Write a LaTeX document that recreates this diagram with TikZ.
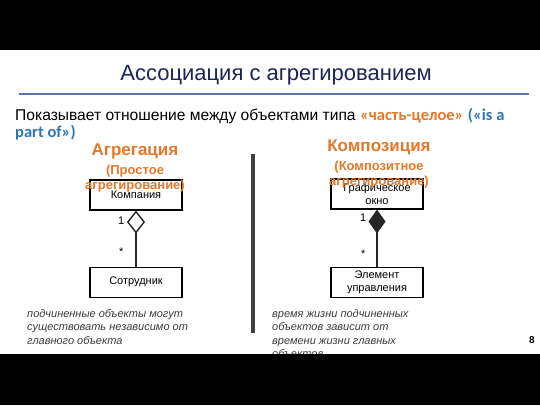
\documentclass[tikz,border=0pt]{standalone}
\usepackage{fontspec}
\setmainfont{Liberation Sans}
\newfontfamily\calfont{Carlito}
\usetikzlibrary{positioning, arrows.meta}
\definecolor{titleColor}{RGB}{26,36,85}
\definecolor{ruleColor}{RGB}{90,114,168}
\definecolor{partColor}{RGB}{228,120,40}
\definecolor{isaColor}{RGB}{46,117,182}
\definecolor{noteColor}{RGB}{60,60,60}
\tikzstyle{umlClass}=[rectangle, draw=black, line width=1.1pt, minimum width=92pt,
minimum height=30pt, align=center, inner sep=1pt,
font=\fontsize{11}{12.5}\selectfont]
\tikzstyle{head}=[text=partColor, font=\fontsize{17}{19}\selectfont\bfseries, inner sep=0pt]
\tikzstyle{subHead}=[text=partColor, font=\fontsize{13}{15}\selectfont\bfseries, inner sep=0pt]
\tikzstyle{mult}=[font=\fontsize{11}{12}\selectfont, inner sep=0pt]
\tikzstyle{note}=[text=noteColor, align=left, inner sep=0pt, anchor=north west,
font=\fontsize{11}{13.6}\selectfont\itshape]
\tikzstyle{aggr}=[line width=1.4pt, draw=black!85]
\newcommand{\hiText}[2]{{\calfont\fontsize{16.5}{17}\selectfont\bfseries\color{#1}#2}}

\begin{document}
\begin{tikzpicture}[x=1pt, y=-1pt]
  \useasboundingbox (0,0) rectangle (540,405);
  \fill[black] (0,0) rectangle (540,50);

  % title and rule
  \node(title) [text=titleColor, font=\fontsize{22}{24}\selectfont, anchor=base] at (276,80)
    {Ассоциация с агрегированием};
  \draw [ruleColor, line width=1.8pt] (19,94) -- (529,94);
  \node(intro) [anchor=base west, align=left, inner sep=0pt,
    font=\fontsize{15.6}{17}\selectfont] at (15,137)
    {Показывает отношение между объектами типа \hiText{partColor}{«часть-целое»}
    \hiText{isaColor}{(«is a}\\\hiText{isaColor}{part of»)}};

  % aggregation
  \node(company) [umlClass] at (136,195) {Компания};
  \node(employee) [umlClass, below=56pt of company] {Сотрудник};
  \draw [aggr, -{Diamond[open, length=23pt, width=18pt, line width=1.4pt]}]
    (employee) -- node(oneL) [mult, pos=0.82, left=11pt] {1}
    node(manyL) [mult, pos=0.27, left=12pt] {*} (company);
  \node(aggHead) [head] at (135,151) {Агрегация};
  \node(aggSub1) [subHead, below=6pt of aggHead] {(Простое};
  \node(aggSub2) [subHead, below=3pt of aggSub1] {агрегирование)};
  \node(aggNote) [note] at (27,309) {подчиненные объекты могут\\существовать независимо от\\главного объекта};

  % divider
  \draw [black!75, line width=3.5pt] (253,154) -- (253,333);

  % composition
  \node(window) [umlClass] at (377,194) {Графическое\\окно};
  \node(control) [umlClass, below=57pt of window] {Элемент\\управления};
  \draw [aggr, -{Diamond[length=24pt, width=17pt]}]
    (control) -- node(oneR) [mult, pos=0.86, left=10pt] {1}
    node(manyR) [mult, pos=0.22, left=11pt] {*} (window);
  \node(compHead) [head] at (379,147) {Композиция};
  \node(compSub1) [subHead, below=6pt of compHead] {(Композитное};
  \node(compSub2) [subHead, below=3pt of compSub1] {агрегирование)};
  \node(compNote) [note] at (272,309) {время жизни подчиненных\\объектов зависит от\\времени жизни главных\\объектов};

  \node(pageNo) [font=\fontsize{10}{12}\selectfont\bfseries] at (532,340) {8};
  \fill[black] (0,354) rectangle (540,405);
\end{tikzpicture}
\end{document}
